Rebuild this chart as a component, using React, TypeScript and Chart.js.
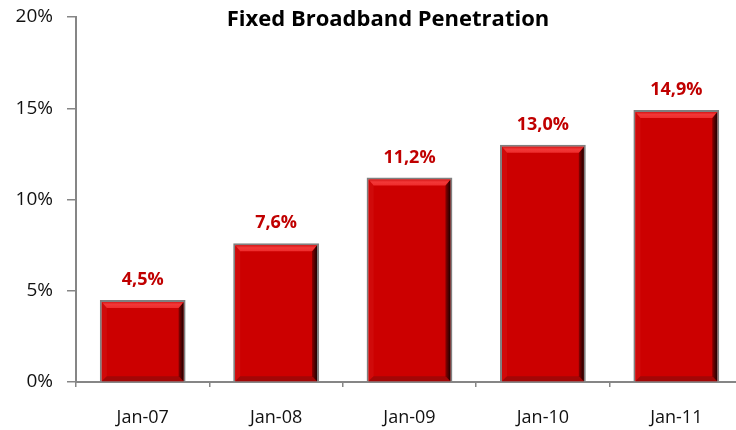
import React, { useEffect, useRef } from "react";
import { Chart, registerables } from "chart.js";

Chart.register(...registerables);

const categories = ["Jan-07", "Jan-08", "Jan-09", "Jan-10", "Jan-11"];
const penetration = [4.5, 7.6, 11.2, 13.0, 14.9];
const yTicks = [0, 5, 10, 15, 20];
const title = "Fixed Broadband Penetration";

const FONT = "'Open Sans', 'Noto Sans', sans-serif";

const bevelPlugin = {
  id: "bevel",
  afterDatasetsDraw(chart: any) {
    const ctx = chart.ctx;
    const meta = chart.getDatasetMeta(0);
    meta.data.forEach((bar: any) => {
      const { x, y, base, width } = bar.getProps(["x", "y", "base", "width"], true);
      const L = x - width / 2 + 2;
      const R = x + width / 2 - 2;
      const T = y + 2;
      const B = base;
      const s = 5;
      ctx.save();
      // left
      ctx.fillStyle = "#D00A0A";
      ctx.beginPath();
      ctx.moveTo(L, T); ctx.lineTo(L + s, T + s + 1); ctx.lineTo(L + s, B - s); ctx.lineTo(L, B);
      ctx.closePath(); ctx.fill();
      // bottom
      ctx.fillStyle = "#A30606";
      ctx.beginPath();
      ctx.moveTo(L, B); ctx.lineTo(R, B); ctx.lineTo(R - s, B - s); ctx.lineTo(L + s, B - s);
      ctx.closePath(); ctx.fill();
      // right
      const g = ctx.createLinearGradient(R - s, 0, R, 0);
      g.addColorStop(0, "#8C0000");
      g.addColorStop(1, "#1E0000");
      ctx.fillStyle = g;
      ctx.beginPath();
      ctx.moveTo(R, T); ctx.lineTo(R, B); ctx.lineTo(R - s, B - s); ctx.lineTo(R - s, T + s + 1);
      ctx.closePath(); ctx.fill();
      // top
      const gt = ctx.createLinearGradient(0, T, 0, T + s + 1);
      gt.addColorStop(0, "#D81818");
      gt.addColorStop(0.4, "#F23838");
      gt.addColorStop(1, "#EE2C2C");
      ctx.fillStyle = gt;
      ctx.beginPath();
      ctx.moveTo(L, T); ctx.lineTo(R, T); ctx.lineTo(R - s, T + s + 1); ctx.lineTo(L + s, T + s + 1);
      ctx.closePath(); ctx.fill();
      ctx.restore();
    });
  },
};

const labelsPlugin = {
  id: "valueLabels",
  afterDraw(chart: any) {
    const ctx = chart.ctx;
    const meta = chart.getDatasetMeta(0);
    ctx.save();
    ctx.font = `bold 18px ${FONT}`;
    ctx.fillStyle = "#C00000";
    ctx.textAlign = "center";
    ctx.textBaseline = "middle";
    meta.data.forEach((bar: any, i: number) => {
      const v = penetration[i];
      ctx.fillText(v.toFixed(1).replace(".", ",") + "%", bar.x, bar.y - 20);
    });
    // title
    ctx.font = `bold 22px ${FONT}`;
    ctx.fillStyle = "#000000";
    ctx.textBaseline = "alphabetic";
    ctx.fillText(title, 388, 26);
    ctx.restore();
  },
};

export default function App() {
  const ref = useRef<HTMLCanvasElement>(null);
  useEffect(() => {
    if (!ref.current) return;
    const chart = new Chart(ref.current, {
      type: "bar",
      data: {
        labels: categories,
        datasets: [
          {
            data: penetration,
            backgroundColor: "#CC0000",
            borderColor: "#808080",
            borderWidth: 2,
            borderSkipped: "start",
            categoryPercentage: 1,
            barPercentage: 0.643,
          },
        ],
      },
      options: {
        animation: false,
        responsive: false,
        layout: { padding: { top: 17, right: 17, left: 0, bottom: 0 } },
        plugins: { legend: { display: false }, tooltip: { enabled: false }, title: { display: false } },
        scales: {
          x: {
            grid: { display: true, drawOnChartArea: false, offset: true, tickLength: 5, color: "#868686", lineWidth: 1.5 },
            border: { display: true, color: "#868686", width: 2 },
            ticks: { color: "#111", font: { family: FONT, size: 18 }, padding: 20 },
            afterFit: (s: any) => { s.height = 48; s.paddingLeft = 0; s.paddingRight = 0; },
          },
          y: {
            min: 0,
            max: 20,
            afterBuildTicks: (s: any) => { s.ticks = yTicks.map((v) => ({ value: v })); },
            grid: { display: true, drawOnChartArea: false, tickLength: 9, color: "#868686", lineWidth: 1.5 },
            border: { display: true, color: "#868686", width: 2 },
            ticks: { color: "#111", font: { family: FONT, size: 19 }, padding: 14, callback: (v: any) => v + "%" },
            afterFit: (s: any) => { s.width = 76; s.paddingTop = 0; s.paddingBottom = 0; },
          },
        },
      },
      plugins: [bevelPlugin, labelsPlugin],
    });
    return () => chart.destroy();
  }, []);
  return (
    <div style={{ position: "fixed", left: 0, top: 0, width: 736, height: 430, overflow: "hidden", background: "#fff" }}>
      <canvas ref={ref} width={760} height={430} style={{ display: "block", width: 760, height: 430 }} />
    </div>
  );
}
